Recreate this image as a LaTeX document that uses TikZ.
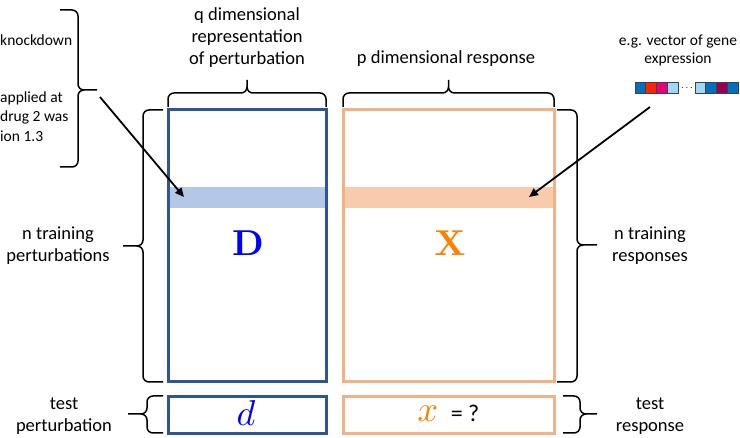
\documentclass[tikz,border=0pt]{standalone}
\usepackage[no-math]{fontspec}
\setmainfont{Carlito}
\usetikzlibrary{arrows.meta}

\definecolor{dblue}{HTML}{2F5597}
\definecolor{dband}{HTML}{B4C7E7}
\definecolor{xorange}{HTML}{F4B183}
\definecolor{xband}{HTML}{F8CBAD}
\definecolor{letterblue}{HTML}{0000FF}
\definecolor{letterorange}{HTML}{FF8000}
\definecolor{gblue}{HTML}{0070C0}
\definecolor{gred}{HTML}{FF2400}
\definecolor{gpink}{HTML}{E6007E}
\definecolor{glight}{HTML}{9DD9F7}
\definecolor{gmaroon}{HTML}{990055}

\newcommand{\bigsym}[1]{\scalebox{3.6}{$#1$}}

\begin{document}
\begin{tikzpicture}[x=1pt, y=-1pt, >={Triangle[length=9pt,width=8pt]},
  font={\fontsize{18.5}{22}\selectfont},
  smallfont/.style={font={\fontsize{15.5}{19}\selectfont}},
  bigletter/.style={font={\fontsize{10}{12}\selectfont}, inner sep=0pt},
  lbl/.style={align=center, inner sep=0pt},
  brc/.style={line width=1.5pt, rounded corners=6pt},
  dbox/.style={draw=dblue, line width=3pt, inner sep=0pt},
  xbox/.style={draw=xorange, line width=3pt, inner sep=0pt},
  gsq/.style={draw=black!75, line width=1pt}]
  \useasboundingbox (0,0) rectangle (740,438);

  % --- context on the left, cut off by the page ---
  \node[smallfont, anchor=west, inner sep=0pt] (ctx1) at (0,40) {knockdown};
  \node[smallfont, anchor=west, inner sep=0pt] (ctx2) at (0,98) {applied at};
  \node[smallfont, anchor=west, inner sep=0pt] (ctx3) at (0,117) {drug 2 was};
  \node[smallfont, anchor=west, inner sep=0pt] (ctx4) at (0,136) {ion 1.3};
  \draw[brc] (60,10) -- (78,10) -- (78,90) -- (97,90)
             (60,167) -- (78,167) -- (78,90) -- (97,90);
  \coordinate (ctxtip) at (100,97);

  % --- bands ---
  \fill[dband] (168,187) rectangle (326,208);
  \fill[xband] (343,187) rectangle (554,208);

  % --- training matrices ---
  \node[dbox, minimum width=158, minimum height=272] (dmat) at (247,246) {};
  \node[xbox, minimum width=211, minimum height=272] (xmat) at (448.5,246) {};
  \node[bigletter, text=letterblue] (dlab) at (248,243) {\bigsym{\mathbf{D}}};
  \node[bigletter, text=letterorange] (xlab) at (450,243) {\bigsym{\mathbf{X}}};

  % --- test rows ---
  \node[dbox, minimum width=158, minimum height=37] (dtest) at (247,415) {};
  \node[xbox, minimum width=211, minimum height=37] (xtest) at (448.5,415) {};
  \node[bigletter, text=letterblue] (dvec) at (246,413) {\bigsym{d}};
  \node[bigletter, text=letterorange] (xvec) at (428,414) {\bigsym{x}};
  \node[inner sep=0pt, font={\fontsize{24}{26}\selectfont}] (unknown) at (465,413.5) {= ?};

  % --- braces and labels ---
  \draw[brc] (168,107) -- (168,93) -- (247,93) -- (247,80)
             (326,107) -- (326,93) -- (247,93) -- (247,80);
  \draw[brc] (343,107) -- (343,93) -- (448.5,93) -- (448.5,80)
             (554,107) -- (554,93) -- (448.5,93) -- (448.5,80);
  \node[lbl] (qlab) at (247,37.5) {q dimensional\\representation\\of perturbation};
  \node[lbl] (plab) at (446,59) {p dimensional response};

  \draw[brc] (163,110) -- (143,110) -- (143,246) -- (123,246)
             (163,382) -- (143,382) -- (143,246) -- (123,246);
  \draw[brc] (557,110) -- (577,110) -- (577,245) -- (597,245)
             (557,382) -- (577,382) -- (577,245) -- (597,245);
  \node[lbl] (ntrainp) at (58,246) {n training\\perturbations};
  \node[lbl] (ntrainr) at (650,246) {n training\\responses};

  \draw[brc] (163,396) -- (147,396) -- (147,414) -- (128,414)
             (163,433) -- (147,433) -- (147,414) -- (128,414);
  \draw[brc] (563,396) -- (580,396) -- (580,414) -- (597,414)
             (563,433) -- (580,433) -- (580,414) -- (597,414);
  \node[lbl] (testp) at (64,416) {test\\perturbation};
  \node[lbl] (testr) at (650,416) {test\\response};

  % --- gene expression vector ---
  \node[lbl, font={\fontsize{15.5}{18}\selectfont}] (genelab) at (678,50) {e.g. vector of gene\\expression};
  \foreach \c [count=\i from 0] in {gblue,gred,gpink,glight}
    \draw[gsq, fill=\c] (635+\i*10.8,83) rectangle ++(10.8,11);
  \node[inner sep=0pt, font={\fontsize{10}{10}\selectfont}] (gdots) at (687,88) {$\cdots$};
  \foreach \c [count=\i from 0] in {glight,gblue,gmaroon,gblue}
    \draw[gsq, fill=\c] (695+\i*10.8,83) rectangle ++(10.8,11);
  \coordinate (genes) at (650,107);

  % --- arrows into the bands ---
  \coordinate (dhit) at (184,197);
  \coordinate (xhit) at (529,197);
  \draw[->, line width=1.8pt] (ctxtip) -- (dhit);
  \draw[->, line width=1.8pt] (genes) -- (xhit);
\end{tikzpicture}
\end{document}
